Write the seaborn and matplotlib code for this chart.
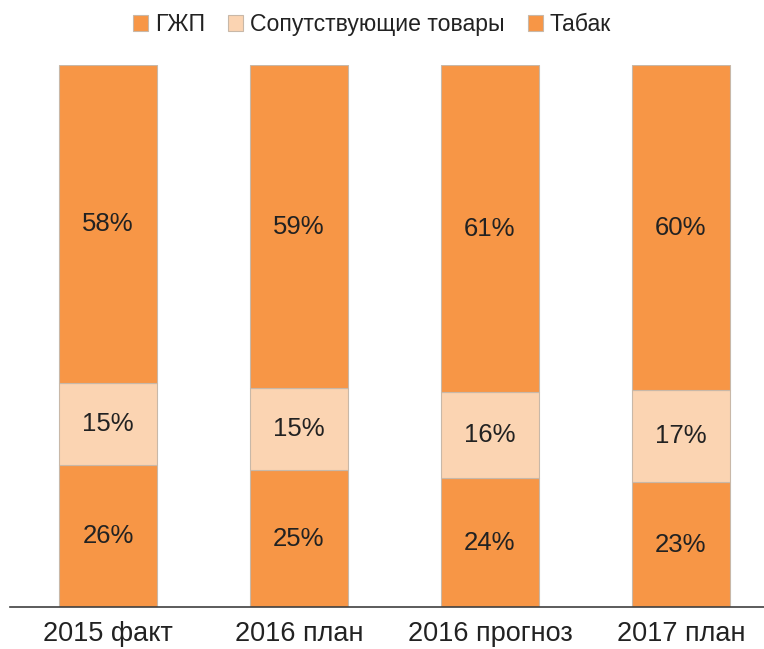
import matplotlib
matplotlib.use("Agg")
import matplotlib.pyplot as plt
import seaborn as sns
import pandas as pd
import numpy as np
from matplotlib.patches import Patch

categories = ["2015 факт", "2016 план", "2016 прогноз", "2017 план"]
tabak = [26, 25, 24, 23]
soput = [15, 15, 16, 17]
gzhp = [58, 59, 61, 60]
series_names = ["ГЖП", "Сопутствующие товары", "Табак"]

c_orange = "#F79646"
c_light = "#FBD4B2"
edge = "#C8B8A8"

sns.set_theme(style="white")
plt.rcParams["font.family"] = ["Liberation Sans", "DejaVu Sans"]

totals = np.array(tabak) + np.array(soput) + np.array(gzhp)
df = pd.DataFrame({
    "cat": categories,
    "tabak": np.array(tabak) / totals,
    "soput": np.array(soput) / totals,
    "gzhp": np.array(gzhp) / totals,
})

fig = plt.figure(figsize=(7.64, 6.49), dpi=100)
ax = fig.add_axes([10 / 764, 1 - 607 / 649, 754 / 764, (607 - 65) / 649])

layers = [("tabak", tabak, c_orange), ("soput", soput, c_light), ("gzhp", gzhp, c_orange)]
bottom = np.zeros(len(categories))
for col, raw, color in layers:
    sns.barplot(data=df, x="cat", y=col, ax=ax, color=color, width=0.51,
                bottom=bottom, edgecolor=edge, linewidth=0.8, saturation=1)
    vals = df[col].values
    for i, (b, v, r) in enumerate(zip(bottom, vals, raw)):
        ax.text(i, b + v / 2, f"{r}%", ha="center", va="center",
                fontsize=18.5, color="#222222")
    bottom = bottom + vals

ax.set_xlim(-0.513, 3.435)
ax.set_ylim(0, 1)
ax.set_xlabel("")
ax.set_ylabel("")
ax.set_yticks([])
for s in ["top", "right", "left"]:
    ax.spines[s].set_visible(False)
ax.spines["bottom"].set_color("#404040")
ax.spines["bottom"].set_linewidth(1.2)
ax.tick_params(axis="x", length=0, labelsize=19.5, pad=10, colors="#222222")

handles = [Patch(facecolor=c_orange, edgecolor=edge, linewidth=0.8),
           Patch(facecolor=c_light, edgecolor=edge, linewidth=0.8),
           Patch(facecolor=c_orange, edgecolor=edge, linewidth=0.8)]
fig.legend(handles, series_names, loc="upper center", bbox_to_anchor=(0.487, 1.012),
           ncol=3, frameon=False, fontsize=16.6, handlelength=0.65, handleheight=0.65,
           handletextpad=0.3, columnspacing=1.0, labelcolor="#222222")

fig.savefig("out.png", dpi=100)
